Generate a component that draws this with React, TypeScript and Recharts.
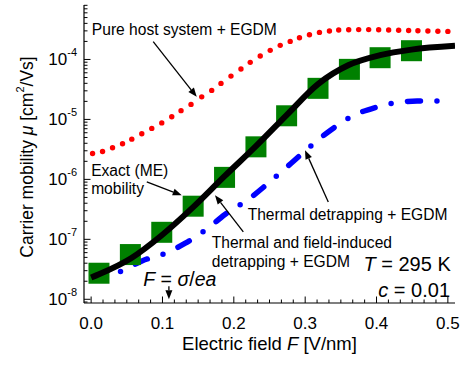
import {
  ComposedChart,
  Line,
  XAxis,
  YAxis,
  ReferenceLine,
  ReferenceDot,
} from "recharts";

// Exact (ME) mobility - green squares
const meField = [0.011, 0.055, 0.099, 0.143, 0.187, 0.231, 0.274, 0.318, 0.362, 0.405, 0.449];
const meMobility = [2.72e-8, 5.57e-8, 1.31e-7, 3.57e-7, 1.08e-6, 3.49e-6, 1.15e-5, 3.3e-5, 6.84e-5, 1.07e-4, 1.4e-4];

// thermal and field-induced detrapping + EGDM - black solid
const fullField = [0, 0.011, 0.056, 0.099, 0.143, 0.187, 0.231, 0.274, 0.318, 0.361, 0.405, 0.449, 0.51];
const fullMobility = [2.3e-8, 2.61e-8, 4.84e-8, 1.17e-7, 3.44e-7, 1.13e-6, 3.58e-6, 1.18e-5, 3.88e-5, 8.06e-5, 1.18e-4, 1.46e-4, 1.69e-4];

// pure host system + EGDM - red dots
const hostField = [
  0.002, 0.016, 0.03, 0.044, 0.057, 0.071, 0.085, 0.099, 0.113, 0.126,
  0.14, 0.155, 0.169, 0.182, 0.196, 0.21, 0.223, 0.237, 0.251, 0.265,
  0.279, 0.292, 0.306, 0.32, 0.334, 0.347, 0.361, 0.375, 0.389, 0.403,
  0.417, 0.431, 0.445, 0.458, 0.472, 0.486, 0.5,
];
const hostMobility = [
  2.7e-6, 2.92e-6, 3.36e-6, 3.92e-6, 4.69e-6, 5.77e-6, 7.08e-6, 8.75e-6, 1.11e-5, 1.4e-5,
  1.78e-5, 2.38e-5, 3.05e-5, 3.99e-5, 5.28e-5, 6.92e-5, 8.95e-5, 1.14e-4, 1.42e-4, 1.72e-4,
  2.0e-4, 2.3e-4, 2.58e-4, 2.83e-4, 2.98e-4, 3.1e-4, 3.13e-4, 3.15e-4, 3.15e-4, 3.13e-4,
  3.1e-4, 3.07e-4, 3.04e-4, 3.01e-4, 2.98e-4, 2.95e-4, 2.94e-4,
];

// thermal detrapping + EGDM - blue dash-dot
const thermalField = [0.001, 0.043, 0.072, 0.103, 0.132, 0.162, 0.188, 0.222, 0.251, 0.28, 0.31, 0.339, 0.369, 0.398, 0.428, 0.457, 0.5];
const thermalMobility = [2.25e-8, 2.96e-8, 4.4e-8, 5.79e-8, 8.61e-8, 1.48e-7, 2.62e-7, 4.8e-7, 9.22e-7, 1.84e-6, 3.79e-6, 7.08e-6, 1.18e-5, 1.58e-5, 1.91e-5, 2.02e-5, 2.02e-5];

// axes
const xDomain = [-0.01, 0.51];
const yDomain = [8.67e-9, 8.1e-4];
const xMajorTicks = [0, 0.1, 0.2, 0.3, 0.4, 0.5];
const xMinorSteps = [1, 2, 3, 4, 5]; // sixths of 0.1
const yDecades = [-8, -7, -6, -5, -4];
const yMinorFactors = [2, 3, 4, 5, 6, 7, 8, 9];

const zip = (xs: number[], ys: number[]) => xs.map((x, i) => ({ x, mu: ys[i] }));

const meData = zip(meField, meMobility);
const fullData = zip(fullField, fullMobility);
const hostData = zip(hostField, hostMobility);
const thermalData = zip(thermalField, thermalMobility);

const xTicks: number[] = [];
xMajorTicks.forEach((m) => {
  xTicks.push(m);
  xMinorSteps.forEach((k) => {
    const v = +(m + k / 60).toFixed(5);
    if (v < xDomain[1]) xTicks.push(v);
  });
});

const yTicks: number[] = [9e-9];
yDecades.forEach((d) => {
  const base = Math.pow(10, d);
  yTicks.push(base);
  yMinorFactors.forEach((f) => {
    const v = f * base;
    if (v < yDomain[1]) yTicks.push(v);
  });
});

const isMajorX = (v: number) => xMajorTicks.some((m) => Math.abs(m - v) < 1e-6);
const isMajorY = (v: number) => {
  const l = Math.log10(v);
  return Math.abs(l - Math.round(l)) < 1e-6;
};

const FONT = '"Liberation Sans", Arial, sans-serif';
const MAJOR = 6.5;
const MINOR = 3.5;

function BottomTick({ x, y, payload }: any) {
  const major = isMajorX(payload.value);
  return (
    <g>
      <line x1={x} x2={x} y1={y} y2={y - (major ? MAJOR : MINOR)} stroke="#000" strokeWidth={1} />
      {major && (
        <text x={x} y={y + 20} textAnchor="middle" dominantBaseline="central" fontSize={17} fill="#000" fontFamily={FONT}>
          {payload.value.toFixed(1)}
        </text>
      )}
    </g>
  );
}

function TopTick({ x, y, payload }: any) {
  const major = isMajorX(payload.value);
  return <line x1={x} x2={x} y1={y} y2={y + (major ? MAJOR : MINOR)} stroke="#000" strokeWidth={1} />;
}

function LeftTick({ x, y, payload }: any) {
  const major = isMajorY(payload.value);
  const exp = Math.round(Math.log10(payload.value));
  return (
    <g>
      <line x1={x} x2={x + (major ? MAJOR : MINOR)} y1={y} y2={y} stroke="#000" strokeWidth={1} />
      {major && (
        <text x={x - 7} y={y} textAnchor="end" dominantBaseline="central" fontSize={17} fill="#000" fontFamily={FONT}>
          <tspan>10</tspan>
          <tspan dy={-7} fontSize={11}>{String(exp)}</tspan>
        </text>
      )}
    </g>
  );
}

function RightTick({ x, y, payload }: any) {
  const major = isMajorY(payload.value);
  return <line x1={x} x2={x - (major ? MAJOR : MINOR)} y1={y} y2={y} stroke="#000" strokeWidth={1} />;
}

const arrowShape = (p: any) => {
  const { x1, y1, x2, y2 } = p;
  const a = Math.atan2(y2 - y1, x2 - x1);
  const L = 9;
  const W = 3.5;
  const bx = x2 - L * Math.cos(a);
  const by = y2 - L * Math.sin(a);
  const pts = `${x2},${y2} ${bx - W * Math.sin(a)},${by + W * Math.cos(a)} ${bx + W * Math.sin(a)},${by - W * Math.cos(a)}`;
  return (
    <g>
      <line x1={x1} y1={y1} x2={bx} y2={by} stroke="#000" strokeWidth={1.3} />
      <polygon points={pts} fill="#000" />
    </g>
  );
};

const note = (lines: any, anchor: "start" | "end" = "start", size = 15.6) => (p: any) => (
  <text
    x={p.cx}
    y={p.cy}
    textAnchor={anchor}
    dominantBaseline="central"
    fontSize={size}
    fill="#000"
    fontFamily={FONT}
  >
    {lines}
  </text>
);

const square = (p: any) => (
  <rect key={`sq-${p.index}`} x={p.cx - 10.5} y={p.cy - 10.5} width={21} height={21} fill="#008000" />
);
const redDot = (p: any) => <circle key={`rd-${p.index}`} cx={p.cx} cy={p.cy} r={2.7} fill="#ff0000" />;

export default function App() {
  const anyProps: any = { zIndex: 1500 };
  return (
    <div style={{ position: "absolute", left: 0, top: 0, width: 464, height: 365, fontFamily: FONT, background: "#fff" }}>
      <ComposedChart width={464} height={365} margin={{ top: 5, right: 9, bottom: 0, left: 0 }}>
        <XAxis
          dataKey="x"
          type="number"
          domain={xDomain}
          allowDataOverflow
          ticks={xTicks}
          interval={0}
          tickSize={0}
          tickMargin={0}
          tickLine={false}
          tick={BottomTick}
          axisLine={{ stroke: "#000", strokeWidth: 1.2 }}
          height={62}
          label={(props: any) => {
            const vb = props.viewBox;
            return (
              <text x={vb.x + vb.width / 2} y={vb.y + 40} textAnchor="middle" dominantBaseline="central" fontSize={18.5} fill="#000" fontFamily={FONT}>
                Electric field <tspan fontStyle="italic">F</tspan> [V/nm]
              </text>
            );
          }}
        />
        <XAxis
          xAxisId="top"
          orientation="top"
          dataKey="x"
          type="number"
          domain={xDomain}
          allowDataOverflow
          ticks={xTicks}
          interval={0}
          tickSize={0}
          tickMargin={0}
          tickLine={false}
          tick={TopTick}
          axisLine={{ stroke: "#000", strokeWidth: 1.2 }}
          height={0}
        />
        <YAxis
          dataKey="mu"
          type="number"
          scale="log"
          domain={yDomain}
          allowDataOverflow
          ticks={yTicks}
          interval={0}
          tickSize={0}
          tickMargin={0}
          tickLine={false}
          tick={LeftTick}
          axisLine={{ stroke: "#000", strokeWidth: 1.2 }}
          width={84}
          label={(props: any) => {
            const vb = props.viewBox;
            const cx = vb.x + 27;
            const cy = vb.y + vb.height / 2 + 3;
            return (
              <text x={cx} y={cy} transform={`rotate(-90, ${cx}, ${cy})`} textAnchor="middle" dominantBaseline="central" fontSize={17.5} fill="#000" fontFamily={FONT}>
                Carrier mobility <tspan fontStyle="italic">μ</tspan> [cm<tspan dy={-7} fontSize={11}>2</tspan>
                <tspan dy={7}>/Vs]</tspan>
              </text>
            );
          }}
        />
        <YAxis
          yAxisId="right"
          orientation="right"
          dataKey="mu"
          type="number"
          scale="log"
          domain={yDomain}
          allowDataOverflow
          ticks={yTicks}
          interval={0}
          tickSize={0}
          tickMargin={0}
          tickLine={false}
          tick={RightTick}
          axisLine={{ stroke: "#000", strokeWidth: 1.2 }}
          width={0}
        />

        <Line data={meData} dataKey="mu" stroke="none" dot={square} activeDot={false} isAnimationActive={false} />
        <Line data={hostData} dataKey="mu" stroke="none" dot={redDot} activeDot={false} isAnimationActive={false} />
        <Line
          data={thermalData}
          dataKey="mu"
          type="monotone"
          stroke="#0000ff"
          strokeWidth={5.5}
          strokeLinecap="round"
          strokeDasharray="13 16.5 0 16.5"
          dot={false}
          activeDot={false}
          isAnimationActive={false}
        />
        <Line
          {...anyProps}
          data={fullData}
          dataKey="mu"
          type="monotone"
          stroke="#000"
          strokeWidth={6}
          dot={false}
          activeDot={false}
          isAnimationActive={false}
        />

        {/* annotations */}
        <ReferenceDot x={0.001} y={3.18e-4} r={0} ifOverflow="visible" shape={note("Pure host system + EGDM")} />
        <ReferenceLine segment={[{ x: 0.087, y: 1.98e-4 }, { x: 0.148, y: 2.38e-5 }]} ifOverflow="visible" shape={arrowShape} />

        <ReferenceDot x={0} y={1.43e-6} r={0} ifOverflow="visible" shape={note("Exact (ME)")} />
        <ReferenceDot x={0} y={7.05e-7} r={0} ifOverflow="visible" shape={note("mobility")} />
        <ReferenceLine segment={[{ x: 0.078, y: 9.08e-7 }, { x: 0.127, y: 5.44e-7 }]} ifOverflow="visible" shape={arrowShape} />

        <ReferenceDot x={0.169} y={8.71e-8} r={0} ifOverflow="visible" shape={note("Thermal and field-induced")} />
        <ReferenceDot x={0.169} y={4.2e-8} r={0} ifOverflow="visible" shape={note("detrapping + EGDM")} />
        <ReferenceLine segment={[{ x: 0.2133, y: 1.33e-7 }, { x: 0.1736, y: 5.44e-7 }]} ifOverflow="visible" shape={arrowShape} />

        <ReferenceDot x={0.2194} y={2.62e-7} r={0} ifOverflow="visible" shape={note("Thermal detrapping + EGDM")} />
        <ReferenceLine segment={[{ x: 0.3324, y: 4.2e-7 }, { x: 0.2998, y: 3.07e-6 }]} ifOverflow="visible" shape={arrowShape} />

        <ReferenceDot
          x={0.504}
          y={3.84e-8}
          r={0}
          ifOverflow="visible"
          shape={note(<><tspan fontStyle="italic">T</tspan> = 295 K</>, "end", 20)}
        />
        <ReferenceDot
          x={0.503}
          y={1.45e-8}
          r={0}
          ifOverflow="visible"
          shape={note(<><tspan fontStyle="italic">c</tspan> = 0.01</>, "end", 20)}
        />
        <ReferenceDot
          x={0.0731}
          y={2.16e-8}
          r={0}
          ifOverflow="visible"
          shape={note(
            <>
              <tspan fontStyle="italic">F</tspan> = <tspan fontStyle="italic">σ</tspan>/<tspan fontStyle="italic">ea</tspan>
            </>,
            "start",
            19.5
          )}
        />
        <ReferenceLine segment={[{ x: 0.109, y: 1.65e-8 }, { x: 0.109, y: 1e-8 }]} ifOverflow="visible" shape={arrowShape} />
      </ComposedChart>
    </div>
  );
}
